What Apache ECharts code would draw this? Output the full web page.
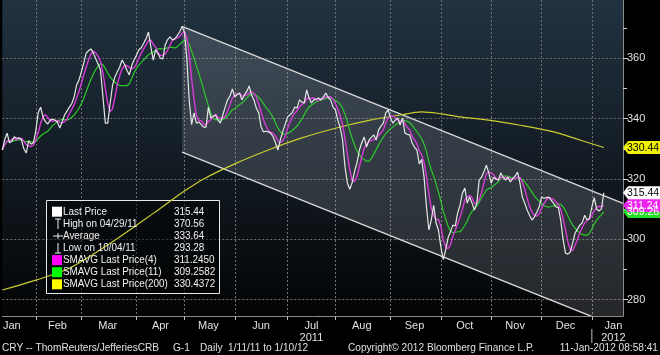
<!DOCTYPE html>
<html>
<head>
<meta charset="utf-8">
<script src="https://cdn.jsdelivr.net/npm/echarts@6/dist/echarts.min.js"></script>
<style>
html, body { margin: 0; padding: 0; background: #000; }
#main { width: 660px; height: 355px; }
</style>
</head>
<body>
<div id="main"></div>
<script>
// CRB 指数日线收盘价 1/11/11 - 1/10/12
var lastPrice = [
  329.6, 333, 335.2, 332, 332.5, 334, 333.5, 333.6, 333, 330,
  328.6, 332.6, 331.5, 332, 336, 342, 343.8, 340.5, 339, 338.2,
  339.5, 339.8, 339.5, 338.9, 336.9, 339, 341.2, 342.5, 343.8, 345,
  347.2, 351.1, 352.8, 355.5, 358.4, 361.7, 362.5, 363.1, 361.7, 359.8,
  358, 356, 347.2, 338.5, 338.5, 345, 351, 353.8, 355.5, 357.1,
  359.4, 358, 356, 354.5, 357.5, 359.5, 361, 362.8, 363.5, 365,
  366.5, 368.7, 363.7, 359.4, 362.8, 361.5, 360, 359.8, 364.5, 366.2,
  367.1, 366.1, 366.4, 367.5, 368.7, 370.56, 368.7, 360, 346, 338,
  341.9, 338.5, 338.9, 338, 337.2, 337.2, 343.8, 340.2, 340.8, 341.2,
  339.5, 338.5, 341.2, 343.8, 346.2, 347.5, 349.8, 347.2, 348, 348.5,
  346.2, 347.8, 349, 350.8, 347.8, 346.2, 343.5, 341.9, 337.2, 335.6,
  335.8, 335.6, 335.2, 334, 331.9, 329.6, 332.9, 335.6, 338, 340.5,
  341.2, 342, 343.8, 343.5, 346.2, 345.5, 345.2, 349.5, 346.8, 345.2,
  346.2, 346.5, 346.8, 346.2, 347.2, 348.5, 347, 346.2, 343.8, 342.9,
  339.5, 337, 332.9, 324, 318.6, 316.6, 318.8, 322.5, 325.3, 329.6,
  332, 333.9, 330.6, 332.9, 333.8, 334.6, 332.9, 336.2, 337.5, 338.5,
  341.9, 342.9, 340.2, 338.5, 339.5, 340.2, 337.9, 340.2, 335.2, 334.8,
  334.6, 332, 330.5, 329.6, 325, 326.5, 320.6, 310.7, 303.1, 306.4,
  311.3, 305.4, 303.1, 297.4, 293.28, 296.4, 300.5, 302.5, 304.7, 304.4,
  308.7, 311.3, 315.3, 317, 312, 314, 312, 309.7, 312, 319.6,
  320.6, 322.5, 324.6, 322, 318.6, 320.6, 320, 319.6, 322, 320.5,
  319.6, 320.6, 319, 320.2, 321, 322.3, 318.6, 314, 312, 309.7,
  308, 306.4, 307.4, 309, 310.7, 314, 313.6, 313.8, 314, 313,
  312, 310.7, 310.7, 306.4, 300, 295.4, 295.1, 295.8, 298.8, 302.1,
  303.4, 304.7, 305.5, 308, 306.4, 307, 310.7, 313.8, 310, 309.4,
  310.1, 315.44
];
// 200日均线 [交易日序号, 值]
var sma200 = [
  [0, 283.2], [14, 286.5], [28, 290.4], [46, 299.2], [63, 308.6], [72, 313.8],
  [76, 316], [84, 320], [97, 325], [111, 329.6], [125, 333.6], [139, 336.8],
  [153, 339.4], [166, 341.2], [175, 342.2], [183, 341.6], [191, 340.6],
  [203, 339.5], [216, 337.8], [230, 335.6], [241, 332.9], [251, 330.44]
];
// 趋势通道 (起止序号, 上沿, 下沿)
var channelIdx = [75, 259];
var channelTop = [370.56, 311.9];
var channelBottom = [328.9, 270.3];

var holidays = ['2011-01-17', '2011-02-21', '2011-04-22', '2011-05-30', '2011-07-04',
  '2011-09-05', '2011-11-24', '2011-12-26', '2012-01-02', '2012-01-16'];
var monthNames = ['Jan', 'Feb', 'Mar', 'Apr', 'May', 'Jun', 'Jul', 'Aug', 'Sep', 'Oct', 'Nov', 'Dec'];
var yLabels = [280, 300, 320, 340, 360];
var yMinorTicks = [290, 310, 330, 350, 370];

var legendRows = [
  ['Last Price', '315.44'],
  ['High on 04/29/11', '370.56'],
  ['Average', '333.64'],
  ['Low on 10/04/11', '293.28'],
  ['SMAVG Last Price(4)', '311.2450'],
  ['SMAVG Last Price(11)', '309.2582'],
  ['SMAVG Last Price(200)', '330.4372']
];
var lastLabels = [
  { value: 330.44, text: '330.44', bg: '#f0f000', color: '#000' },
  { value: 309.26, text: '309.26', bg: '#22dd22', color: '#fff' },
  { value: 311.24, text: '311.24', bg: '#ee22ee', color: '#fff' },
  { value: 315.44, text: '315.44', bg: '#ffffff', color: '#000' }
];

var FONT = '"Liberation Sans", Arial, sans-serif';
var cWhite = '#e6e6e6', cMag = '#d83cd8', cGreen = '#2cc82c', cYellow = '#cccc30';

// 交易日
var dates = [];
var d = new Date(Date.UTC(2011, 0, 11));
var end = Date.UTC(2012, 0, 23);
while (d.getTime() <= end) {
  var wd = d.getUTCDay();
  var s = d.toISOString().slice(0, 10);
  if (wd != 0 && wd != 6 && holidays.indexOf(s) < 0) dates.push(s);
  d.setUTCDate(d.getUTCDate() + 1);
}

// 月份分组
var groups = [];
dates.forEach(function (s, i) {
  var key = s.slice(0, 7);
  if (!groups.length || groups[groups.length - 1].key !== key) groups.push({ key: key, first: i, last: i });
  else groups[groups.length - 1].last = i;
});
var monthFirst = {}, labelAt = {};
groups.forEach(function (g, k) {
  if (k > 0) monthFirst[g.first] = true;
  var at;
  if (k === 0) at = g.last - 9;
  else if (k === groups.length - 1) at = g.first + 9;
  else at = Math.round((g.first + g.last) / 2);
  labelAt[at] = g.key;
});

function sma(arr, n) {
  var out = [];
  for (var i = 0; i < arr.length; i++) {
    var sum = 0, c = 0;
    for (var j = Math.max(0, i - n + 1); j <= i; j++) { sum += arr[j]; c++; }
    out.push(+(sum / c).toFixed(3));
  }
  return out;
}

var myChart = echarts.init(document.getElementById('main'));
var option = {
  animation: false,
  backgroundColor: '#000',
  grid: {
    left: -2, right: 37, top: 0, bottom: 39, show: true, borderWidth: 0,
    backgroundColor: new echarts.graphic.LinearGradient(0, 0, 0, 1, [
      { offset: 0, color: '#223241' },
      { offset: 0.5, color: '#131c24' },
      { offset: 1, color: '#030405' }
    ])
  },
  xAxis: {
    type: 'category', data: dates, boundaryGap: false,
    axisLine: { show: true, lineStyle: { color: '#8a8a8a' } },
    axisTick: { show: true, length: 4, lineStyle: { color: '#bbbbbb' },
      interval: function (i) { return !!monthFirst[i]; } },
    axisLabel: {
      color: '#e0e0e0', fontSize: 11, fontFamily: FONT, margin: 4, lineHeight: 12,
      interval: function (i) { return !!labelAt[i]; },
      formatter: function (v, i) {
        var key = labelAt[i];
        if (!key) return '';
        var m = monthNames[+key.slice(5, 7) - 1];
        if (key === '2011-07') return m + '\n2011';
        if (key === '2012-01') return m + '\n2012';
        return m;
      }
    },
    splitLine: { show: true, lineStyle: { color: '#707070', type: [2, 2] },
      interval: function (i) { return !!monthFirst[i]; } }
  },
  yAxis: [{
    type: 'value', position: 'right', min: 274.6, max: 379.3,
    axisLine: { show: true, lineStyle: { color: '#8a8a8a' } },
    axisTick: { show: true, length: 5, lineStyle: { color: '#d0d0d0' }, customValues: yLabels },
    axisLabel: { color: '#e0e0e0', fontSize: 11, fontFamily: FONT, margin: 4, customValues: yLabels },
    splitLine: { show: true, lineStyle: { color: '#707070', type: [2, 2] } }
  }, {
    type: 'value', position: 'right', min: 274.6, max: 379.3,
    axisLine: { show: false },
    axisTick: { show: true, length: 4, lineStyle: { color: '#d0d0d0' }, customValues: yMinorTicks },
    axisLabel: { show: false },
    splitLine: { show: false }
  }],
  series: [
    {
      type: 'custom', clip: true, silent: true, z: 1,
      data: [0],
      renderItem: function (params, api) {
        var a = api.coord([channelIdx[0], channelTop[0]]);
        var b = api.coord([channelIdx[1], channelTop[1]]);
        var c = api.coord([channelIdx[1], channelBottom[1]]);
        var e = api.coord([channelIdx[0], channelBottom[0]]);
        return {
          type: 'group',
          children: [
            { type: 'polygon', shape: { points: [a, b, c, e] },
              style: { fill: 'rgba(205,215,225,0.17)' } },
            { type: 'line', shape: { x1: a[0], y1: a[1], x2: b[0], y2: b[1] },
              style: { stroke: '#d8d8d8', lineWidth: 1.4 } },
            { type: 'line', shape: { x1: e[0], y1: e[1], x2: c[0], y2: c[1] },
              style: { stroke: '#d8d8d8', lineWidth: 1.4 } }
          ]
        };
      }
    },
    { name: 'SMAVG Last Price(200)', type: 'line', data: sma200, smooth: 0.3, showSymbol: false,
      lineStyle: { color: cYellow, width: 1.2 } },
    { name: 'SMAVG Last Price(11)', type: 'line', data: sma(lastPrice, 11), showSymbol: false,
      lineStyle: { color: cGreen, width: 1.2 } },
    { name: 'SMAVG Last Price(4)', type: 'line', data: sma(lastPrice, 4), showSymbol: false,
      lineStyle: { color: cMag, width: 1.4 } },
    { name: 'Last Price', type: 'line', data: lastPrice, showSymbol: false,
      lineStyle: { color: cWhite, width: 1.2 } }
  ]
};
myChart.setOption(option);

// 图例框 / 右侧数值标签 / 底部文字
var g = [];
// 窄体文字: 横向压缩
function txt(t, x, y, fill, align, size, sx) {
  return { type: 'text', z: 20, x: x, y: y, scaleX: sx || 0.88,
    style: { text: t, x: 0, y: 0, fill: fill || '#f0f0f0',
      font: (size || 11.5) + 'px ' + FONT, verticalAlign: 'middle', align: align || 'left' } };
}
function ln(x1, y1, x2, y2, col) {
  return { type: 'line', z: 20, shape: { x1: x1, y1: y1, x2: x2, y2: y2 },
    style: { stroke: col || '#f0f0f0', lineWidth: 1 } };
}
g.push({ type: 'rect', z: 1, shape: { x: 46.5, y: 200.5, width: 173, height: 93 },
  style: { fill: 'rgba(0,0,0,0.45)', stroke: '#e8e8e8', lineWidth: 1 } });
var sq = ['#ffffff', null, null, null, '#ff00ff', '#00ff00', '#ffff00'];
legendRows.forEach(function (r, i) {
  var y = 211.7 + i * 12.1;
  if (sq[i]) g.push({ type: 'rect', z: 20, shape: { x: 52, y: y - 5, width: 10, height: 10 }, style: { fill: sq[i] } });
  g.push(txt(r[0], 63, y, '#f0f0f0', 'left', 11.5, 0.86));
  g.push(txt(r[1], 174, y, '#f0f0f0', 'left', 11.5, 0.86));
});
// High / Average / Low 符号
g.push(ln(55, 219, 61, 219), ln(58, 219, 58, 229));
g.push(ln(53, 236, 63, 236), ln(58, 233, 58, 239));
g.push(ln(58, 243, 58, 253), ln(55, 253, 61, 253));

lastLabels.forEach(function (l) {
  var y = myChart.convertToPixel({ yAxisIndex: 0 }, l.value);
  g.push({ type: 'polygon', z: 30,
    shape: { points: [[623, y], [628, y - 6.5], [660, y - 6.5], [660, y + 6.5], [628, y + 6.5]] },
    style: { fill: l.bg } });
  g.push({ type: 'text', z: 31, style: { text: l.text, x: 627, y: y + 0.5, fill: l.color,
    font: '10.5px ' + FONT, verticalAlign: 'middle' } });
});

var xDiv = myChart.convertToPixel({ xAxisIndex: 0 }, dates[246]);
g.push(ln(xDiv, 329, xDiv, 343, '#c0c0c0'));

g.push(txt('CRY -- ThomReuters/JefferiesCRB', 2, 348, '#e0e0e0'));
g.push(txt('G-1', 173, 348, '#e0e0e0'));
g.push(txt('Daily  1/11/11 to 1/10/12', 200, 348, '#e0e0e0'));
g.push(txt('Copyright\u00a9 2012 Bloomberg Finance L.P.', 348, 348, '#e0e0e0'));
g.push(txt('11-Jan-2012 08:58:41', 658, 348, '#e0e0e0', 'right'));

myChart.setOption({ graphic: g });
</script>
</body>
</html>
